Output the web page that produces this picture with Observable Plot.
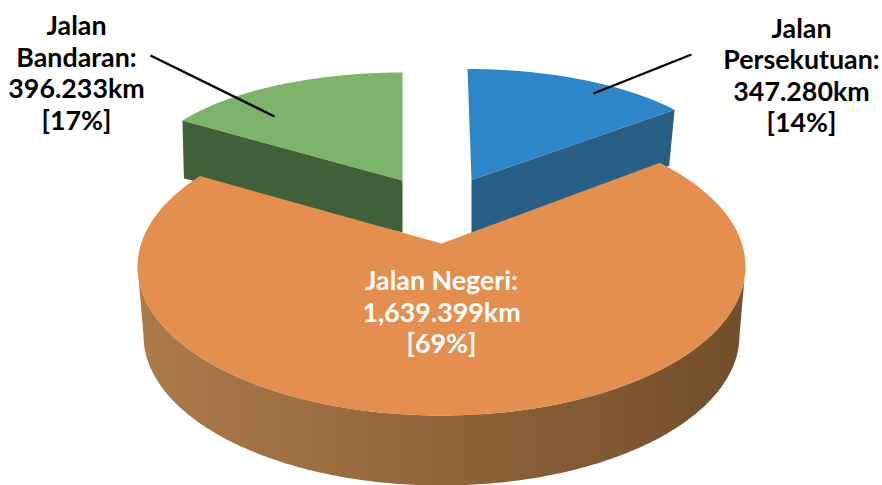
<!DOCTYPE html>
<html>
<head>
<meta charset="utf-8">
<script src="https://cdn.jsdelivr.net/npm/d3@7"></script>
<script src="https://cdn.jsdelivr.net/npm/@observablehq/plot@0.6"></script>
<style>
  html, body { margin: 0; padding: 0; background: #fff; }
  svg { display: block; }
</style>
</head>
<body>
<div id="chart"></div>
<script>
// ---- Data (clockwise from twelve o'clock) ----
const categories = ["Jalan Persekutuan", "Jalan Negeri", "Jalan Bandaran"];
const lengthsKm = [347.280, 1639.399, 396.233];
const percentLabels = [14, 69, 17];
const labelNameLines = [["Jalan", "Persekutuan:"], ["Jalan Negeri:"], ["Jalan", "Bandaran:"]];

// ---- Layout of the tilted, exploded pie ----
const shapes = [
  {top: "#2e86c8", wall: "#285f87", apex: [471, 179.5], centre: [471, 173.5], rx: 260, ry: 105, aspect: 2.25, lean: 0.036, apexDrop: [0, 54], rimDrop: [-5.5, 56]},
  {top: "#e48f50", wall: "url(#wallShade)", apex: [441, 243], centre: [441, 266], rx: 304, ry: 149, aspect: 2.08, lean: 0, lowerCentre: [441, 335], lowerRx: 298, lowerRy: 150},
  {top: "#7db36b", wall: "#3f6039", apex: [402, 180], centre: [402, 177], rx: 262, ry: 105, aspect: 2.13, lean: 0, apexDrop: [0, 52], rimDrop: [1.5, 58]}
];
const labelPlaces = [
  {x: 801, y: 74.5, fill: "#000"},
  {x: 441, y: 311, fill: "#fff"},
  {x: 76, y: 72, fill: "#000"}
];
const leaders = [
  {from: [691, 54], to: [593, 93]},
  {from: [150, 55], to: [274, 116]}
];

// ---- Geometry derived from the values ----
const arcs = d3.pie().sort(null).startAngle(0).endAngle(2 * Math.PI)(lengthsKm);

function rimPoint(s, angle) {
  const dx = Math.sin(angle) * s.aspect, dy = -Math.cos(angle);
  const ox = (s.apex[0] - s.centre[0]) / s.rx, oy = (s.apex[1] - s.centre[1]) / s.ry;
  const ux = dx / s.rx, uy = dy / s.ry;
  const a = ux * ux + uy * uy, b = 2 * (ox * ux + oy * uy), c = ox * ox + oy * oy - 1;
  const t = (-b + Math.sqrt(b * b - 4 * a * c)) / (2 * a);
  const x = s.apex[0] + dx * t, y = s.apex[1] + dy * t;
  return [x - s.lean * (s.apex[1] - y), y];
}
function topFace(s, arc) {
  const n = 160;
  const pts = [s.apex];
  for (let i = 0; i <= n; i++) pts.push(rimPoint(s, arc.startAngle + (arc.endAngle - arc.startAngle) * i / n));
  return pts;
}
function flatWall(s, rim) {
  return [s.apex, rim, [rim[0] + s.rimDrop[0], rim[1] + s.rimDrop[1]], [s.apex[0] + s.apexDrop[0], s.apex[1] + s.apexDrop[1]]];
}
function roundWall(s) {
  const upper = [], lower = [];
  for (let i = 0; i <= 200; i++) {
    const t = Math.PI * i / 200;
    upper.push([s.centre[0] + s.rx * Math.cos(t), s.centre[1] + s.ry * Math.sin(t)]);
    lower.push([s.lowerCentre[0] + s.lowerRx * Math.cos(t), s.lowerCentre[1] + s.lowerRy * Math.sin(t)]);
  }
  return upper.concat(lower.reverse());
}
const polygon = (pts, fill) => Plot.line(pts, {x: d => d[0], y: d => d[1], fill, stroke: "none"});

const labels = categories.map((c, i) => ({
  x: labelPlaces[i].x, y: labelPlaces[i].y, fill: labelPlaces[i].fill,
  text: [...labelNameLines[i], d3.format(",.3f")(lengthsKm[i]) + "km", "[" + percentLabels[i] + "%]"].join("\n")
}));

const marks = [
  polygon(flatWall(shapes[0], rimPoint(shapes[0], arcs[0].endAngle)), shapes[0].wall),
  polygon(topFace(shapes[0], arcs[0]), shapes[0].top),
  polygon(flatWall(shapes[2], rimPoint(shapes[2], arcs[2].startAngle)), shapes[2].wall),
  polygon(topFace(shapes[2], arcs[2]), shapes[2].top),
  polygon(roundWall(shapes[1]), shapes[1].wall),
  polygon(topFace(shapes[1], arcs[1]), shapes[1].top),
  Plot.link(leaders, {x1: d => d.from[0], y1: d => d.from[1], x2: d => d.to[0], y2: d => d.to[1], stroke: "#000", strokeWidth: 2.4}),
  Plot.text(labels, {
    x: "x", y: "y", text: "text", fill: d => d.fill,
    fontFamily: "Lato", fontWeight: 700, fontSize: 26.8, lineHeight: 1.175,
    textAnchor: "middle", lineAnchor: "middle"
  })
];

const plot = Plot.plot({
  width: 882, height: 485,
  margin: 0,
  x: {domain: [0, 882], range: [0, 882], axis: null},
  y: {domain: [0, 485], range: [0, 485], axis: null},
  style: {background: "#fff"},
  color: {type: "identity"},
  marks
});

const gradient = d3.select(plot).insert("defs", ":first-child")
  .append("linearGradient").attr("id", "wallShade").attr("x1", 0).attr("x2", 1).attr("y1", 0).attr("y2", 0);
gradient.append("stop").attr("offset", 0).attr("stop-color", "#ad7b49");
gradient.append("stop").attr("offset", 1).attr("stop-color", "#734e2b");

document.getElementById("chart").append(plot);
</script>
</body>
</html>
